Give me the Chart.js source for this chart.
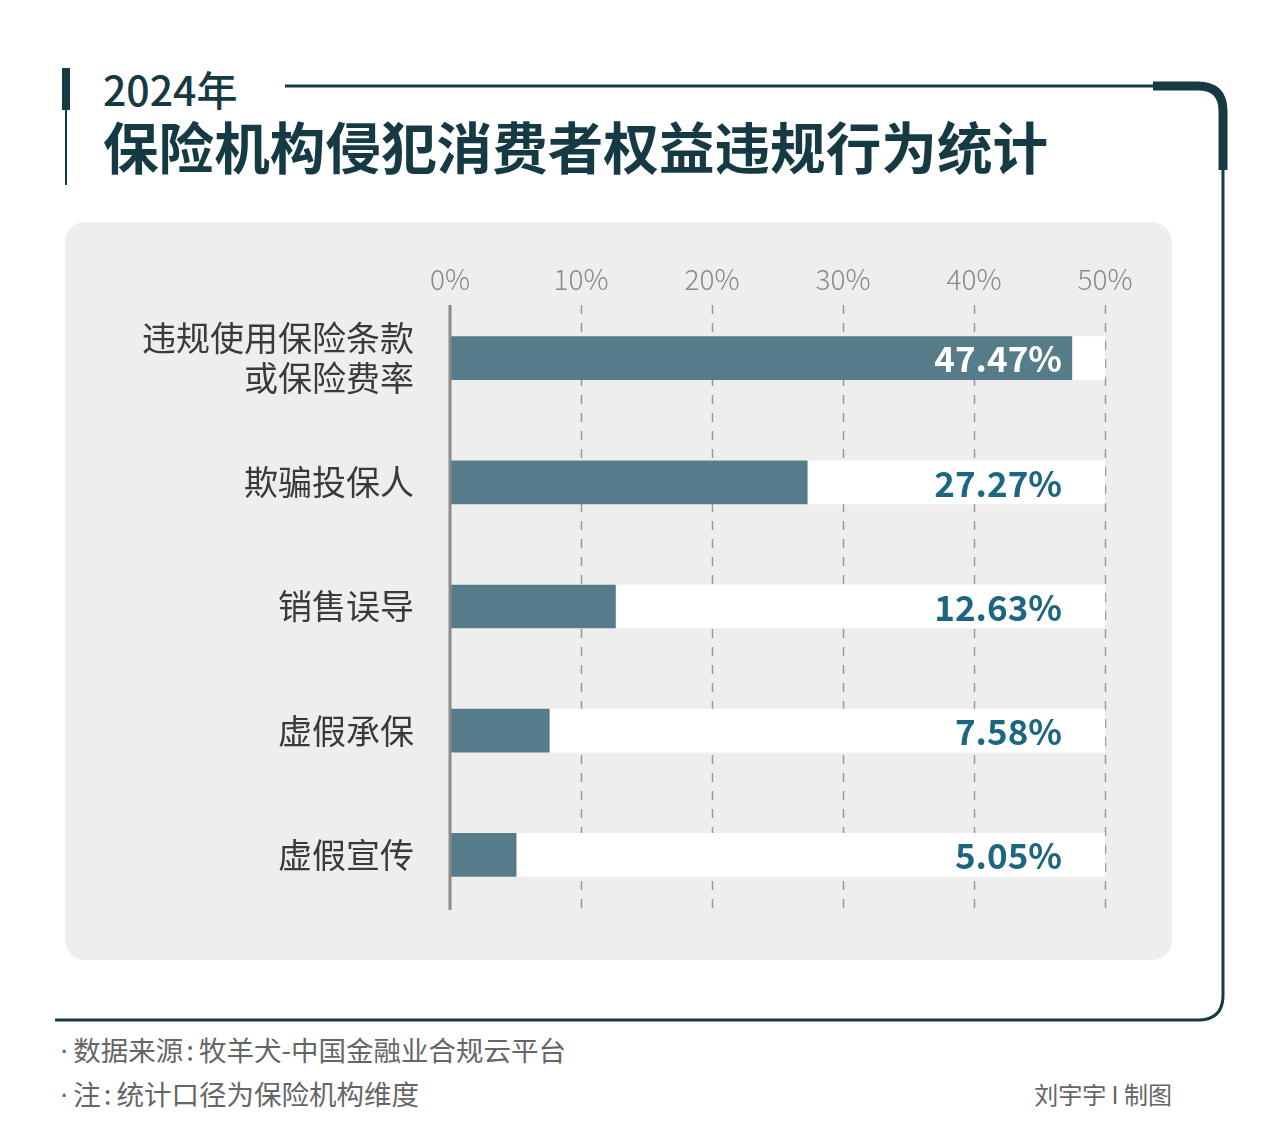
<!DOCTYPE html>
<html>
<head>
<meta charset="utf-8">
<script src="https://cdn.jsdelivr.net/npm/chart.js@4"></script>
<style>
  body { margin: 0; background: #fff; font-family: "Noto Sans CJK SC", sans-serif; }
  #page { position: relative; width: 1280px; height: 1147px; overflow: hidden; }
  #frame { position: absolute; left: 0; top: 0; }
  .txt { position: absolute; white-space: nowrap; line-height: 1; }
  #year { left: 103px; top: 68px; font-size: 41px; font-weight: 500; color: #163a44; }
  #title { left: 103px; top: 118px; font-size: 55.6px; font-weight: 700; color: #163a44; }
  #panel { position: absolute; left: 65px; top: 222px; width: 1107px; height: 738px;
           background: #eeeeee; border-radius: 20px; }
  .foot { font-size: 27.5px; color: #666; }
  .dot { font-family: "DejaVu Sans", sans-serif; margin-right: 5px; font-size: 26px; }
  .col { margin: 0 5px 0 3px; }
  #src { left: 60px; top: 1036px; }
  #note { left: 60px; top: 1080px; }
  #author { right: 108px; top: 1082px; font-size: 24px; }
</style>
</head>
<body>
<div id="page">
  <svg id="frame" width="1280" height="1147">
    <rect x="62" y="68" width="8" height="42" fill="#163a44"/>
    <line x1="66" y1="108" x2="66" y2="185" stroke="#163a44" stroke-width="2"/>
    <line x1="285" y1="86" x2="1160" y2="86" stroke="#163a44" stroke-width="3"/>
    <path d="M1153 86 H1198 Q1223 86 1223 111 V170" fill="none" stroke="#163a44" stroke-width="9"/>
    <path d="M1223 168 V995 Q1223 1020 1198 1020 H55" fill="none" stroke="#163a44" stroke-width="3"/>
  </svg>
  <div class="txt" id="year">2024年</div>
  <div class="txt" id="title">保险机构侵犯消费者权益违规行为统计</div>
  <div id="panel"><canvas id="barChart" width="1107" height="738"></canvas></div>
  <div class="txt foot" id="src"><span class="dot">·</span>数据来源<span class="col">:</span>牧羊犬-中国金融业合规云平台</div>
  <div class="txt foot" id="note"><span class="dot">·</span>注<span class="col">:</span>统计口径为保险机构维度</div>
  <div class="txt foot" id="author">刘宇宇 I 制图</div>
</div>
<script>
// 数据
var categories = [['违规使用保险条款', '或保险费率'], '欺骗投保人', '销售误导', '虚假承保', '虚假宣传'];
var shares = [47.47, 27.27, 12.63, 7.58, 5.05];
var fullScale = [50, 50, 50, 50, 50];
var tickValues = [0, 10, 20, 30, 40, 50];

var FONT = '"Noto Sans CJK SC", sans-serif';

// 虚线网格 + 0 轴
var gridPlugin = {
    id: 'gridLines',
    beforeDatasetsDraw: function (chart) {
        var ctx = chart.ctx, x = chart.scales.x;
        ctx.save();
        ctx.strokeStyle = '#9a9a9a';
        ctx.lineWidth = 1.5;
        ctx.setLineDash([9, 9]);
        tickValues.forEach(function (v) {
            if (v === 0) return;
            var px = Math.round(x.getPixelForValue(v)) + 0.5;
            ctx.beginPath();
            ctx.moveTo(px, 83);
            ctx.lineTo(px, 688);
            ctx.stroke();
        });
        ctx.restore();
    },
    afterDatasetsDraw: function (chart) {
        var ctx = chart.ctx, x = chart.scales.x;
        var px = x.getPixelForValue(0);
        ctx.save();
        ctx.strokeStyle = '#8a8a8a';
        ctx.lineWidth = 3;
        ctx.beginPath();
        ctx.moveTo(px, 83);
        ctx.lineTo(px, 688);
        ctx.stroke();

        // 数值标签
        var meta = chart.getDatasetMeta(0);
        ctx.font = 'bold 35px ' + FONT;
        ctx.textAlign = 'right';
        ctx.textBaseline = 'middle';
        meta.data.forEach(function (bar, i) {
            ctx.fillStyle = i === 0 ? '#ffffff' : '#1d6680';
            ctx.fillText(shares[i].toFixed(2) + '%', x.getPixelForValue(50) - 43, bar.y + 1);
        });
        ctx.restore();
    }
};

var ctx = document.getElementById('barChart').getContext('2d');
new Chart(ctx, {
    type: 'bar',
    data: {
        labels: categories,
        datasets: [{
            data: shares,
            backgroundColor: '#567c8a',
            barThickness: 43,
            grouped: false
        }, {
            data: fullScale,
            backgroundColor: '#ffffff',
            barThickness: 43,
            grouped: false
        }]
    },
    options: {
        indexAxis: 'y',
        responsive: false,
        animation: false,
        layout: { padding: { left: 0, right: 67, top: 0, bottom: 43 } },
        plugins: { legend: { display: false }, tooltip: { enabled: false } },
        scales: {
            x: {
                position: 'top',
                min: 0,
                max: 50,
                afterBuildTicks: function (scale) {
                    scale.ticks = tickValues.map(function (v) { return { value: v }; });
                },
                afterFit: function (scale) { scale.height = 74; },
                grid: { display: false, drawTicks: false },
                border: { display: false },
                ticks: {
                    padding: 0,
                    color: '#8a8a8a',
                    font: { family: FONT, size: 28, weight: '300' },
                    callback: function (v) { return v + '%'; }
                }
            },
            y: {
                afterFit: function (scale) {
                    scale.width = 385;
                    scale.paddingTop = 0;
                    scale.paddingBottom = 0;
                },
                grid: { display: false, drawTicks: false },
                border: { display: false },
                ticks: {
                    padding: 36,
                    color: '#3a3a3a',
                    font: { family: FONT, size: 34, lineHeight: 1.18 }
                }
            }
        }
    },
    plugins: [gridPlugin]
});
</script>
</body>
</html>
